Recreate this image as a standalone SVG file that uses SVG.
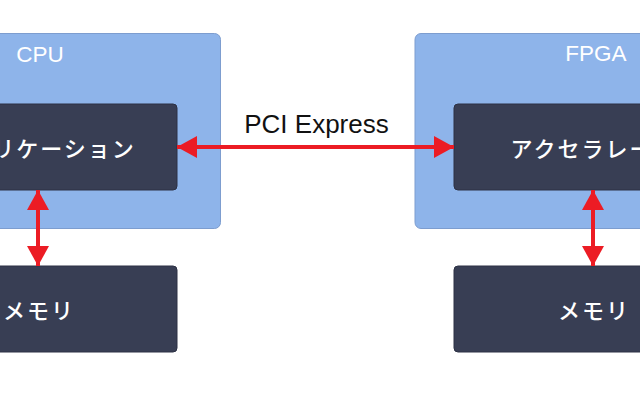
<svg xmlns="http://www.w3.org/2000/svg" width="640" height="396" viewBox="0 0 640 396">
<defs>
<style>
.outer{fill:#8eb4ea;stroke:#7d9dcf;stroke-width:1}
.inner{fill:#383e54;stroke:#2c3144;stroke-width:1}
.jp{font-family:"Noto Sans CJK JP","Noto Sans",sans-serif;font-size:22px;font-weight:500;letter-spacing:2px;fill:#ffffff;text-anchor:middle;dominant-baseline:central}
.lbl{font-family:"Liberation Sans",Arial,sans-serif;font-size:22.5px;fill:#ffffff;text-anchor:middle}
.pci{font-family:"Liberation Sans",Arial,sans-serif;font-size:26px;fill:#111111;text-anchor:middle}
.conn{stroke:#ec1c24;stroke-width:4;fill:none;marker-start:url(#ah);marker-end:url(#ah)}
</style>
<marker id="ah" viewBox="0 0 20 22" refX="20" refY="11" markerWidth="20" markerHeight="22" markerUnits="userSpaceOnUse" orient="auto-start-reverse">
<path d="M0,0 L20,11 L0,22 Z" fill="#ec1c24"/>
</marker>
</defs>
<rect width="640" height="396" fill="#ffffff"/>
<g id="cpu">
<rect class="outer" x="-140" y="33.5" width="360.5" height="195" rx="6"/>
<text class="lbl" x="40" y="62">CPU</text>
</g>
<g id="fpga">
<rect class="outer" x="415" y="33.5" width="360.5" height="195" rx="6"/>
<text class="lbl" x="596" y="61">FPGA</text>
</g>
<g id="app">
<rect class="inner" x="-101" y="104" width="278" height="86" rx="4"/>
<text class="jp" x="40" y="147">アプリケーション</text>
</g>
<g id="accel">
<rect class="inner" x="454" y="104" width="278" height="86" rx="4"/>
<text class="jp" x="594" y="147">アクセラレータ</text>
</g>
<g id="mem-left">
<rect class="inner" x="-101" y="266" width="278" height="86" rx="4"/>
<text class="jp" x="39" y="309">メモリ</text>
</g>
<g id="mem-right">
<rect class="inner" x="454" y="266" width="278" height="86" rx="4"/>
<text class="jp" x="594" y="309">メモリ</text>
</g>
<g id="connectors">
<line class="conn" x1="177" y1="147" x2="454" y2="147"/>
<line class="conn" x1="38" y1="190" x2="38" y2="266"/>
<line class="conn" x1="593" y1="190" x2="593" y2="266"/>
<text class="pci" x="316.5" y="133">PCI Express</text>
</g>
</svg>
